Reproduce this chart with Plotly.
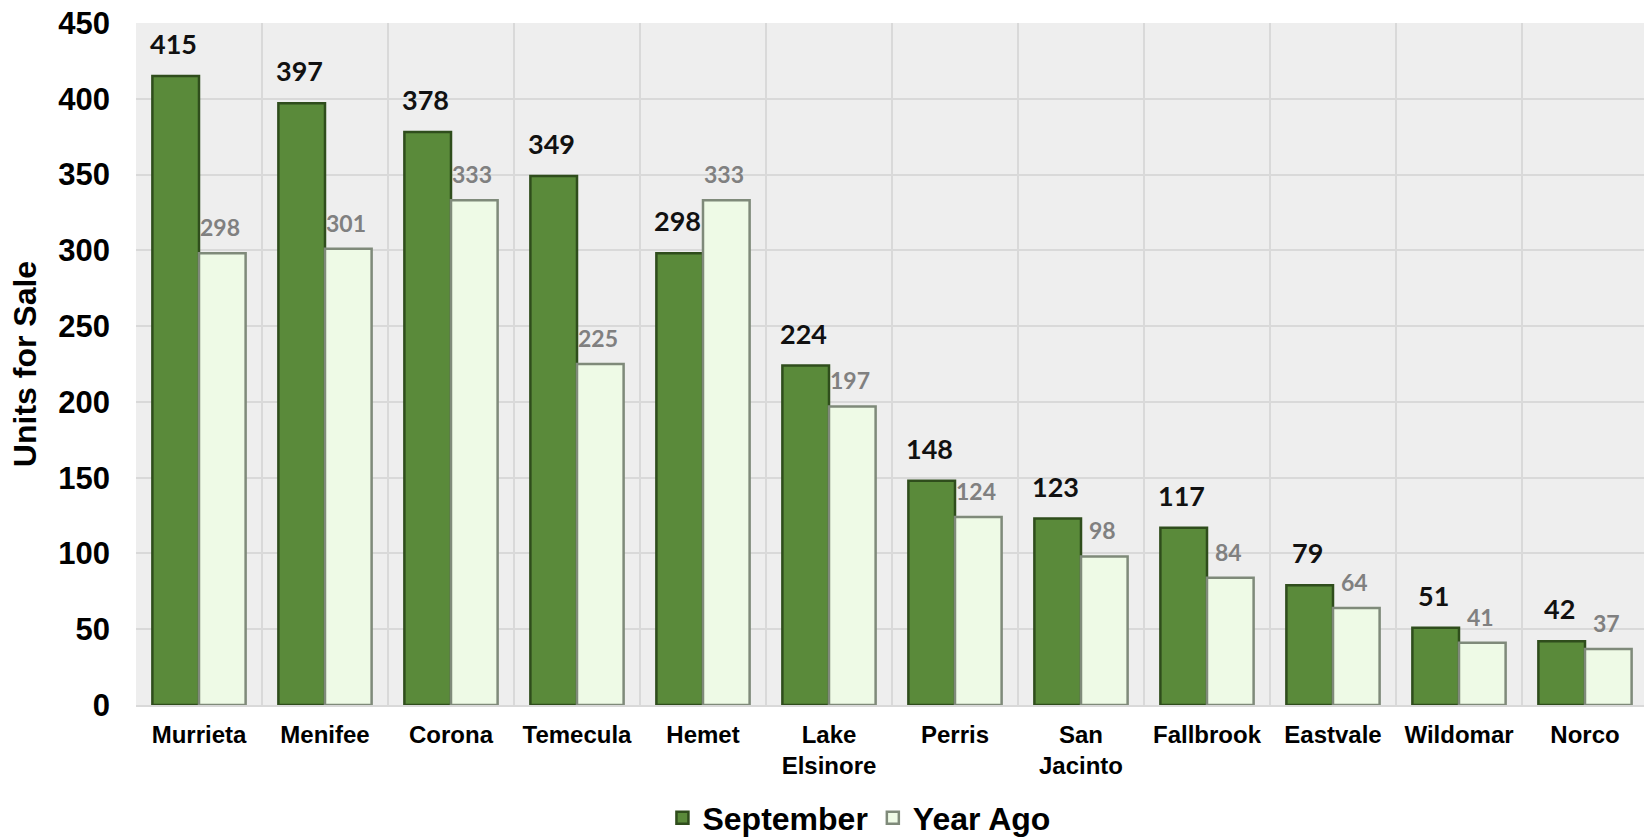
import plotly.graph_objects as go

categories = ["Murrieta", "Menifee", "Corona", "Temecula", "Hemet", "Lake<br>Elsinore",
              "Perris", "San<br>Jacinto", "Fallbrook", "Eastvale", "Wildomar", "Norco"]
september = [415, 397, 378, 349, 298, 224, 148, 123, 117, 79, 51, 42]
year_ago = [298, 301, 333, 225, 333, 197, 124, 98, 84, 64, 41, 37]
y_ticks = [0, 50, 100, 150, 200, 250, 300, 350, 400, 450]

SEP_COLOR = "#5a8a3a"
SEP_EDGE = "#2f4d1c"
YA_COLOR = "#eefae6"
YA_EDGE = "#7f8a7a"

fig = go.Figure()
fig.add_trace(go.Bar(x=categories, y=september, name="September",
                     marker=dict(color=SEP_COLOR, line=dict(color=SEP_EDGE, width=2.5))))
fig.add_trace(go.Bar(x=categories, y=year_ago, name="Year Ago",
                     marker=dict(color=YA_COLOR, line=dict(color=YA_EDGE, width=2.5))))

annotations = []
for c, v in zip(categories, september):
    annotations.append(dict(x=c, y=v, xref="x", yref="y", text=str(v), showarrow=False,
                            xshift=-26, yshift=14, yanchor="bottom",
                            font=dict(family="Lato", size=27, color="#111111", weight="bold")))
for c, v in zip(categories, year_ago):
    annotations.append(dict(x=c, y=v, xref="x", yref="y", text=str(v), showarrow=False,
                            xshift=21, yshift=10, yanchor="bottom",
                            font=dict(family="Lato", size=23, color="#808080", weight="bold")))

fig.update_layout(
    width=1648, height=838,
    margin=dict(l=136, r=0, t=23, b=133),
    paper_bgcolor="white", plot_bgcolor="#eeeeee",
    barmode="group", bargap=0.26, bargroupgap=0,
    font=dict(family="Liberation Sans", color="#000000"),
    showlegend=True,
    legend=dict(orientation="h", xref="container", yref="container",
                x=0.5212, xanchor="center", y=0.0239, yanchor="middle",
                font=dict(family="Liberation Sans", size=32, weight="bold"),
                itemwidth=30),
    annotations=annotations,
)
fig.update_xaxes(type="category", tickson="boundaries", showgrid=True, gridcolor="#d9d9d9",
                 gridwidth=2, ticks="", showline=True, linecolor="#d9d9d9", linewidth=2,
                 automargin=False,
                 tickfont=dict(family="Liberation Sans", size=24, weight="bold"),
                 ticklabelstandoff=7)
fig.update_yaxes(range=[0, 450], tickvals=y_ticks, showgrid=True, gridcolor="#d9d9d9",
                 gridwidth=2, zeroline=False, ticks="", automargin=False,
                 tickfont=dict(family="Liberation Sans", size=31, weight="bold"),
                 ticklabelstandoff=25,
                 title=dict(text="Units for Sale", standoff=12,
                            font=dict(family="Liberation Sans", size=32, weight="bold")))

fig.write_html("out.html", config={"displayModeBar": False},
               post_script="document.body.style.margin='0';document.body.style.overflow='hidden';")
